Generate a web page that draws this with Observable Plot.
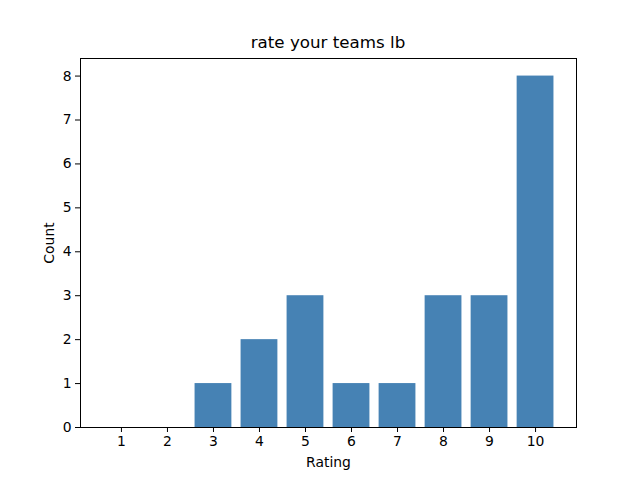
<!DOCTYPE html>
<html>
<head>
<meta charset="utf-8">
<script src="https://cdn.jsdelivr.net/npm/d3@7"></script>
<script src="https://cdn.jsdelivr.net/npm/@observablehq/plot@0.6"></script>
<style>
  body { margin: 0; background: #fff; }
  #wrap { position: relative; width: 640px; height: 480px; font-family: "DejaVu Sans", sans-serif; }
  #title { position: absolute; top: 32px; left: 80px; width: 496px; text-align: center; font-size: 16.7px; line-height: 20px; color: #000; }
  #chart { position: absolute; top: 0; left: 0; }
</style>
</head>
<body>
<div id="wrap">
  <div id="chart"></div>
  <div id="title">rate your teams lb</div>
</div>
<script>
const ratings = [1, 2, 3, 4, 5, 6, 7, 8, 9, 10];
const counts = [0, 0, 1, 2, 3, 1, 1, 3, 3, 8];
const yTicks = [0, 1, 2, 3, 4, 5, 6, 7, 8];

const data = ratings.map((r, i) => ({rating: r, count: counts[i]}));

const chart = Plot.plot({
  width: 640,
  height: 480,
  marginLeft: 80,
  marginRight: 64,
  marginTop: 58,
  marginBottom: 53,
  style: {fontFamily: "DejaVu Sans, sans-serif", fontSize: "13.9px", color: "#000", background: "#fff"},
  x: {domain: [0.11, 10.89]},
  y: {domain: [0, 8.4]},
  marks: [
    Plot.rectY(data, {x1: d => d.rating - 0.4, x2: d => d.rating + 0.4, y1: 0, y2: "count", fill: "#4682b4"}),
    Plot.frame({stroke: "#000", strokeWidth: 1}),
    Plot.axisX({ticks: ratings, tickFormat: d => String(d), tickSize: 5, tickPadding: 4, stroke: "#000", label: "Rating", labelAnchor: "center", labelArrow: "none", labelOffset: 39, fontSize: 13.9}),
    Plot.axisY({ticks: yTicks, tickFormat: d => String(d), tickSize: 5, tickPadding: 4, stroke: "#000", label: "Count", labelAnchor: "center", labelArrow: "none", labelOffset: 36, fontSize: 13.9})
  ]
});
document.getElementById("chart").appendChild(chart);
</script>
</body>
</html>
